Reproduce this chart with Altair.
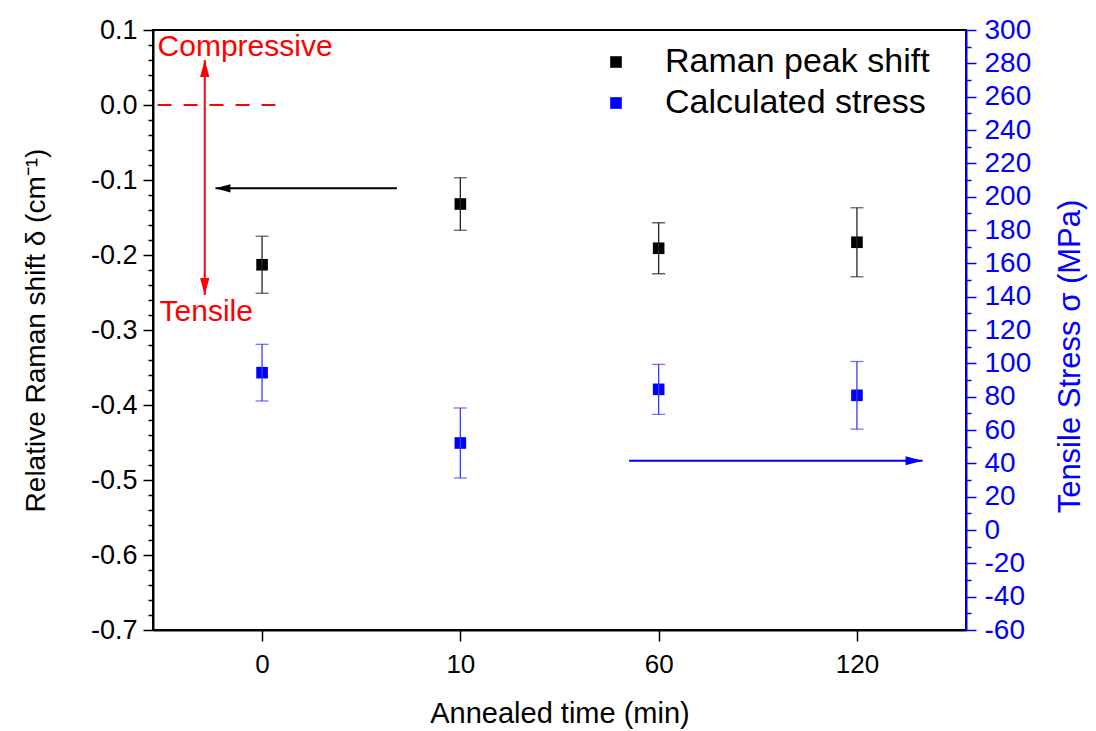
import json
import altair as alt
import pandas as pd

FONT = "Liberation Sans"

# ---------------- data ----------------
times = ["0", "10", "60", "120"]          # category labels (evenly spaced)
positions = [0, 1, 2, 3]                   # category slot index

shift = [-0.213, -0.132, -0.191, -0.183]   # Relative Raman shift (cm^-1)
shift_err = [0.038, 0.035, 0.034, 0.046]

stress = [94.4, 52.2, 84.4, 80.8]          # Tensile stress (MPa)
stress_err = [17.0, 21.0, 15.0, 20.3]

series_names = ["Raman peak shift", "Calculated stress"]
series_colors = ["#000000", "#0000FF"]

# axis tick values
left_major = [0.1, 0.0, -0.1, -0.2, -0.3, -0.4, -0.5, -0.6, -0.7]
left_minor = [0.08, 0.06, 0.04, 0.02, -0.02, -0.04, -0.06, -0.08,
              -0.12, -0.14, -0.16, -0.18, -0.22, -0.24, -0.26, -0.28,
              -0.32, -0.34, -0.36, -0.38, -0.42, -0.44, -0.46, -0.48,
              -0.52, -0.54, -0.56, -0.58, -0.62, -0.64, -0.66, -0.68]
left_labels = ["0.1", "0.0", "-0.1", "-0.2", "-0.3", "-0.4", "-0.5", "-0.6", "-0.7"]
right_major = [-60, -40, -20, 0, 20, 40, 60, 80, 100, 120, 140, 160, 180, 200,
               220, 240, 260, 280, 300]
right_minor = [-50, -30, -10, 10, 30, 50, 70, 90, 110, 130, 150, 170, 190, 210,
               230, 250, 270, 290]
right_labels = ["-60", "-40", "-20", "0", "20", "40", "60", "80", "100", "120", "140",
                "160", "180", "200", "220", "240", "260", "280", "300"]

# annotations (in data coordinates)
dash_x = [-0.527, 0.067]
dash_y = [0.0]
red_arrow_x = [-0.289]
red_arrow_top = [0.06]
red_arrow_bottom = [-0.2533]
black_arrow_x = [-0.235, 0.680]
black_arrow_y = [-0.111]
blue_arrow_x = [1.851, 3.331]
blue_arrow_y = [41.6]
note_text = ["Compressive", "Tensile"]
note_x = [-0.527, -0.517]
note_y = [0.0777, -0.2756]

X_DOMAIN = [-0.55, 3.55]
L_DOMAIN = [-0.7, 0.1]
R_DOMAIN = [-60, 300]

# ---------------- tables ----------------
black = pd.DataFrame({"pos": positions, "v": shift,
                      "lo": [a - b for a, b in zip(shift, shift_err)],
                      "hi": [a + b for a, b in zip(shift, shift_err)],
                      "series": series_names[0]})
blue = pd.DataFrame({"pos": positions, "v": stress,
                     "lo": [a - b for a, b in zip(stress, stress_err)],
                     "hi": [a + b for a, b in zip(stress, stress_err)],
                     "series": series_names[1]})

dash_df = pd.DataFrame({"x1": [dash_x[0]], "x2": [dash_x[1]], "y": dash_y})
red_line_df = pd.DataFrame({"x": red_arrow_x, "y1": red_arrow_top, "y2": red_arrow_bottom})
red_up_df = pd.DataFrame({"x": red_arrow_x, "y": red_arrow_top})
red_down_df = pd.DataFrame({"x": red_arrow_x, "y": red_arrow_bottom})
black_line_df = pd.DataFrame({"x1": [black_arrow_x[0]], "x2": [black_arrow_x[1]], "y": black_arrow_y})
black_head_df = pd.DataFrame({"x": [black_arrow_x[0]], "y": black_arrow_y})
blue_line_df = pd.DataFrame({"x1": [blue_arrow_x[0]], "x2": [blue_arrow_x[1]], "y": blue_arrow_y})
blue_head_df = pd.DataFrame({"x": [blue_arrow_x[1]], "y": blue_arrow_y})
notes_df = pd.DataFrame({"x": note_x, "y": note_y, "t": note_text})

xs = alt.Scale(domain=X_DOMAIN, nice=False, zero=False)
ls = alt.Scale(domain=L_DOMAIN, nice=False, zero=False)
rs = alt.Scale(domain=R_DOMAIN, nice=False, zero=False)

color_enc = alt.Color(
    "series:N",
    scale=alt.Scale(domain=series_names, range=series_colors),
    legend=alt.Legend(
        title=None, orient="none", legendX=446, legendY=15,
        symbolType="square", symbolSize=135, symbolStrokeWidth=0,
        labelFont=FONT, labelFontSize=34, labelColor="#000000", labelLimit=0,
        labelOffset=32, rowPadding=7, padding=0,
    ),
)


def label_lookup(vals, labels):
    return f"{json.dumps(labels)}[indexof({json.dumps(vals)}, datum.value)]"


x_label_expr = label_lookup(positions, times)
left_label_expr = label_lookup(left_major, left_labels)
right_label_expr = label_lookup(right_major, right_labels)

x_axis = alt.Axis(values=positions, labelExpr=x_label_expr, title="Annealed time (min)",
                  orient="bottom", grid=False, domainColor="#000000", domainWidth=2,
                  tickColor="#000000", tickWidth=1.5, tickSize=11, labelFont=FONT,
                  labelFontSize=26, labelColor="#000000", labelPadding=10, labelFlush=False,
                  titleFont=FONT, titleFontSize=29, titleFontWeight="normal",
                  titleColor="#000000", titlePadding=22)

left_axis = alt.Axis(values=left_major, labelExpr=left_label_expr, orient="left",
                     title="Relative Raman shift δ (cm⁻¹)", grid=False,
                     domainColor="#000000", domainWidth=2, tickColor="#000000", tickWidth=1.5,
                     tickSize=10, labelOverlap=False, labelFont=FONT, labelFontSize=27,
                     labelColor="#000000", labelPadding=6, titleFont=FONT, titleFontSize=28,
                     titleFontWeight="normal", titleColor="#000000", titlePadding=40)
left_minor_axis = alt.Axis(values=left_minor, orient="left", title=None, grid=False,
                           labels=False, domain=False, tickColor="#000000", tickWidth=1.5,
                           tickSize=5)

right_axis = alt.Axis(values=right_major, labelExpr=right_label_expr, orient="right",
                      title="Tensile Stress σ (MPa)", grid=False,
                      domainColor="#0000FF", domainWidth=2, tickColor="#0000FF", tickWidth=1.5,
                      tickSize=10, labelOverlap=False, labelFont=FONT, labelFontSize=28,
                      labelColor="#0000FF", labelPadding=8, titleFont=FONT, titleFontSize=31,
                      titleFontWeight="normal", titleColor="#0000FF", titlePadding=56,
                      titleAngle=270, titleY=326)
right_minor_axis = alt.Axis(values=right_minor, orient="right", title=None, grid=False,
                            labels=False, domain=False, tickColor="#0000FF", tickWidth=1.5,
                            tickSize=5)

# ---------------- left-scale layers ----------------
b_rule = alt.Chart(black).mark_rule(color="#222222", strokeWidth=1.3).encode(
    x=alt.X("pos:Q", scale=xs, axis=None),
    y=alt.Y("lo:Q", scale=ls, axis=None), y2="hi:Q")
b_cap_lo = alt.Chart(black).mark_tick(color="#222222", orient="horizontal", size=13, thickness=1.3).encode(
    x=alt.X("pos:Q", scale=xs, axis=None), y=alt.Y("lo:Q", scale=ls, axis=None))
b_cap_hi = alt.Chart(black).mark_tick(color="#222222", orient="horizontal", size=13, thickness=1.3).encode(
    x=alt.X("pos:Q", scale=xs, axis=None), y=alt.Y("hi:Q", scale=ls, axis=None))
b_pts = alt.Chart(black).mark_point(shape="square", filled=True, size=135, opacity=1, strokeWidth=0).encode(
    x=alt.X("pos:Q", scale=xs, axis=x_axis),
    y=alt.Y("v:Q", scale=ls, axis=left_axis),
    color=color_enc)

dash = alt.Chart(dash_df).mark_rule(color="#FF0000", strokeWidth=2, strokeDash=[14, 12]).encode(
    x=alt.X("x1:Q", scale=xs, axis=None), x2="x2:Q", y=alt.Y("y:Q", scale=ls, axis=None))
red_line = alt.Chart(red_line_df).mark_rule(color="#FF0000", strokeWidth=2).encode(
    x=alt.X("x:Q", scale=xs, axis=None), y=alt.Y("y1:Q", scale=ls, axis=None), y2="y2:Q")
red_up = alt.Chart(red_up_df).mark_point(shape="M0,0L0.55,2L-0.55,2Z", filled=True, size=289,
                                         color="#FF0000", opacity=1, strokeWidth=0).encode(
    x=alt.X("x:Q", scale=xs, axis=None), y=alt.Y("y:Q", scale=ls, axis=None))
red_down = alt.Chart(red_down_df).mark_point(shape="M0,0L0.55,-2L-0.55,-2Z", filled=True, size=289,
                                             color="#FF0000", opacity=1, strokeWidth=0).encode(
    x=alt.X("x:Q", scale=xs, axis=None), y=alt.Y("y:Q", scale=ls, axis=None))
black_line = alt.Chart(black_line_df).mark_rule(color="#000000", strokeWidth=2).encode(
    x=alt.X("x1:Q", scale=xs, axis=None), x2="x2:Q", y=alt.Y("y:Q", scale=ls, axis=None))
black_head = alt.Chart(black_head_df).mark_point(shape="M0,0L2,-0.55L2,0.55Z", filled=True, size=225,
                                                 color="#000000", opacity=1, strokeWidth=0).encode(
    x=alt.X("x:Q", scale=xs, axis=None), y=alt.Y("y:Q", scale=ls, axis=None))
notes = alt.Chart(notes_df).mark_text(align="left", baseline="middle", font=FONT, fontSize=30,
                                      color="#FF0000").encode(
    x=alt.X("x:Q", scale=xs, axis=None), y=alt.Y("y:Q", scale=ls, axis=None), text="t:N")
left_minor_layer = alt.Chart(black).mark_point(opacity=0).encode(
    x=alt.X("pos:Q", scale=xs, axis=None),
    y=alt.Y("v:Q", scale=ls, axis=left_minor_axis))

# ---------------- right-scale layers ----------------
u_rule = alt.Chart(blue).mark_rule(color="#3A3AFF", strokeWidth=1.3).encode(
    x=alt.X("pos:Q", scale=xs, axis=None),
    y=alt.Y("lo:Q", scale=rs, axis=None), y2="hi:Q")
u_cap_lo = alt.Chart(blue).mark_tick(color="#3A3AFF", orient="horizontal", size=13, thickness=1.3).encode(
    x=alt.X("pos:Q", scale=xs, axis=None), y=alt.Y("lo:Q", scale=rs, axis=None))
u_cap_hi = alt.Chart(blue).mark_tick(color="#3A3AFF", orient="horizontal", size=13, thickness=1.3).encode(
    x=alt.X("pos:Q", scale=xs, axis=None), y=alt.Y("hi:Q", scale=rs, axis=None))
u_pts = alt.Chart(blue).mark_point(shape="square", filled=True, size=135, opacity=1, strokeWidth=0).encode(
    x=alt.X("pos:Q", scale=xs, axis=None),
    y=alt.Y("v:Q", scale=rs, axis=right_axis),
    color=color_enc)
blue_line = alt.Chart(blue_line_df).mark_rule(color="#0000FF", strokeWidth=2).encode(
    x=alt.X("x1:Q", scale=xs, axis=None), x2="x2:Q", y=alt.Y("y:Q", scale=rs, axis=None))
blue_head = alt.Chart(blue_head_df).mark_point(shape="M0,0L-2,-0.53L-2,0.53Z", filled=True, size=289,
                                               color="#0000FF", opacity=1, strokeWidth=0).encode(
    x=alt.X("x:Q", scale=xs, axis=None), y=alt.Y("y:Q", scale=rs, axis=None))
right_minor_layer = alt.Chart(blue).mark_point(opacity=0).encode(
    x=alt.X("pos:Q", scale=xs, axis=None),
    y=alt.Y("v:Q", scale=rs, axis=right_minor_axis))

chart = (
    alt.layer(
        b_pts, u_pts,
        b_rule, b_cap_lo, b_cap_hi, dash, red_line, red_up, red_down,
        black_line, black_head, notes, left_minor_layer,
        u_rule, u_cap_lo, u_cap_hi, blue_line, blue_head, right_minor_layer,
    )
    .resolve_scale(y="independent")
    .resolve_axis(x="independent", y="independent")
    .properties(
        width=813, height=600,
        autosize=alt.AutoSizeParams(type="none"),
        padding={"left": 153, "top": 30, "right": 130, "bottom": 101},
        background="#FFFFFF",
    )
    .configure_view(stroke="#000000", strokeWidth=2)
)

chart.save("out.html", embed_options={"renderer": "svg", "actions": False})
